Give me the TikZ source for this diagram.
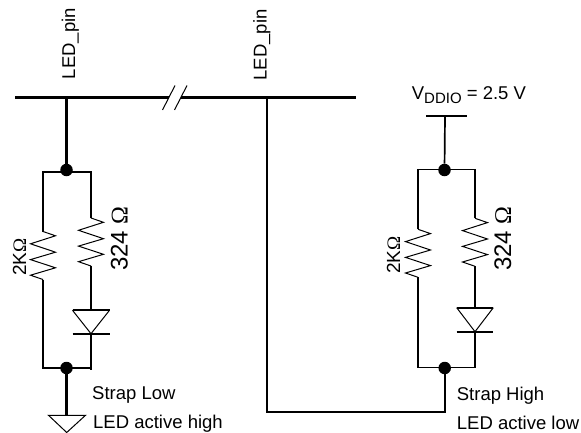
\documentclass[tikz,border=0pt]{standalone}
\usepackage{fontspec}
\setmainfont{Liberation Sans}
\newfontfamily\omegafont{Liberation Serif}
\newcommand{\lbl}{\fontsize{18.5}{20}\selectfont}
\newcommand{\zigzag}{%
  -- ++(12.5,4.3) -- ++(-25,8) -- ++(25,8.4) -- ++(-25,7.4) -- ++(25,8.2) -- ++(-25,7.4) -- ++(12.5,4.3)}
\tikzset{
  wire/.style={line width=1.7pt, line join=miter},
  tapwire/.style={line width=2.1pt},
  thin wire/.style={line width=1pt, line join=miter},
  bus/.style={line width=3pt},
  txt/.style={inner sep=0pt, anchor=base west, font=\lbl},
  vtxt/.style={inner sep=0pt, anchor=base west, rotate=90, font=\lbl},
  dot/.style={circle, fill=black, inner sep=0pt, minimum size=12.5pt},
}
\begin{document}
\begin{tikzpicture}[x=1pt,y=-1pt]
\useasboundingbox (0,0) rectangle (581,433);
% bus
\coordinate (busL) at (15,97.5);
\coordinate (busGapL) at (168.5,97.5);
\coordinate (busGapR) at (180.5,97.5);
\coordinate (busR) at (356,97.5);
\coordinate (tapL) at (66.5,97.5);
\coordinate (tapR) at (267,97.5);
\draw[bus] (busL) -- (busGapL);
\draw[bus] (busGapR) -- (busR);
\draw[thin wire] (162.5,110) -- (175,85.5);
\draw[thin wire] (174.5,110) -- (187,85.5);
\node[vtxt] (pinL) at (75,79.3) {LED\_pin};
\node[vtxt] (pinR) at (266.7,80.7) {LED\_pin};
% left circuit
\node[dot] (dotLT) at (66.5,170) {};
\node[dot] (dotLB) at (66.5,368) {};
\coordinate (LTL) at (43,171.7);
\coordinate (LTR) at (91,171.7);
\coordinate (LBL) at (43,368);
\coordinate (LBR) at (91,368);
\coordinate (zLa) at (43,231.5);
\coordinate (zLb) at (43,279.5);
\coordinate (zLc) at (91,218);
\coordinate (zLd) at (91,266);
\draw[tapwire] (tapL) -- (dotLT);
\draw[wire] (91,174) -- (LTR) -- (LTL) -- (zLa);
\draw[thin wire] (zLa) \zigzag;
\draw[wire] (zLb) -- (LBL) -- (LBR) -- (91,370);
\draw[wire] (LTR) -- (zLc);
\draw[thin wire] (zLc) \zigzag;
\draw[wire] (zLd) -- (91,310.3);
\draw[wire] (72.5,310.3) -- (109.5,310.3);
\draw[thin wire] (72.5,310.3) -- (91,333.7) -- (109.5,310.3);
\draw[wire] (72.5,333.7) -- (109.5,333.7);
\draw[wire] (91,333.7) -- (LBR);
\coordinate (gnd) at (66.5,415.3);
\draw[tapwire] (dotLB) -- (gnd);
\draw[thin wire] (48.5,415.3) -- (85.5,415.3) -- (66.7,432.5) -- cycle;
\node[vtxt,font=\fontsize{19}{20}\selectfont] (rLa) at (26,276) {2K{\omegafont Ω}};
\node[vtxt,font=\fontsize{24}{26}\selectfont] (rLb) at (127.5,271) {324 {\omegafont Ω}};
\node[txt] (sL) at (92,399) {Strap Low};
\node[txt] (aL) at (93,428) {LED active high};
% right circuit
\node[txt] (vdd) at (411.7,99.3) {V\raisebox{-4pt}{\fontsize{15}{16}\selectfont DDIO} = 2.5 V};
\coordinate (vbar) at (445,116);
\draw[wire] (426,116) -- (466.7,116);
\node[dot] (dotRT) at (444.5,170) {};
\node[dot] (dotRB) at (444.7,368) {};
\coordinate (RTL) at (418,169.5);
\coordinate (RTR) at (475,169.5);
\coordinate (RBL) at (418,367.5);
\coordinate (RBR) at (475,367.5);
\coordinate (zRa) at (418,229.3);
\coordinate (zRb) at (418,277.3);
\coordinate (zRc) at (475,218.3);
\coordinate (zRd) at (475,266.3);
\draw[wire] (vbar) -- (dotRT);
\draw[wire] (418,172) -- (RTL) -- (RTR) -- (zRc);
\draw[thin wire] (zRc) \zigzag;
\draw[wire] (zRd) -- (475,307.7);
\draw[wire] (RTL) -- (zRa);
\draw[thin wire] (zRa) \zigzag;
\draw[wire] (zRb) -- (RBL) -- (RBR) -- (475,331.7);
\draw[wire] (456.7,307.7) -- (493.3,307.7);
\draw[thin wire] (456.7,307.7) -- (475,331.7) -- (493.3,307.7);
\draw[wire] (456.7,331.7) -- (493.3,331.7);
\draw[wire] (dotRB) -- (444.7,411.7) -- (267,411.7) -- (tapR);
\node[vtxt,font=\fontsize{19}{20}\selectfont] (rRa) at (400,274) {2K{\omegafont Ω}};
\node[vtxt,font=\fontsize{24}{26}\selectfont] (rRb) at (511,271) {324 {\omegafont Ω}};
\node[txt] (sR) at (456.7,400) {Strap High};
\node[txt] (aR) at (456.7,429.3) {LED active low};
\end{tikzpicture}
\end{document}
